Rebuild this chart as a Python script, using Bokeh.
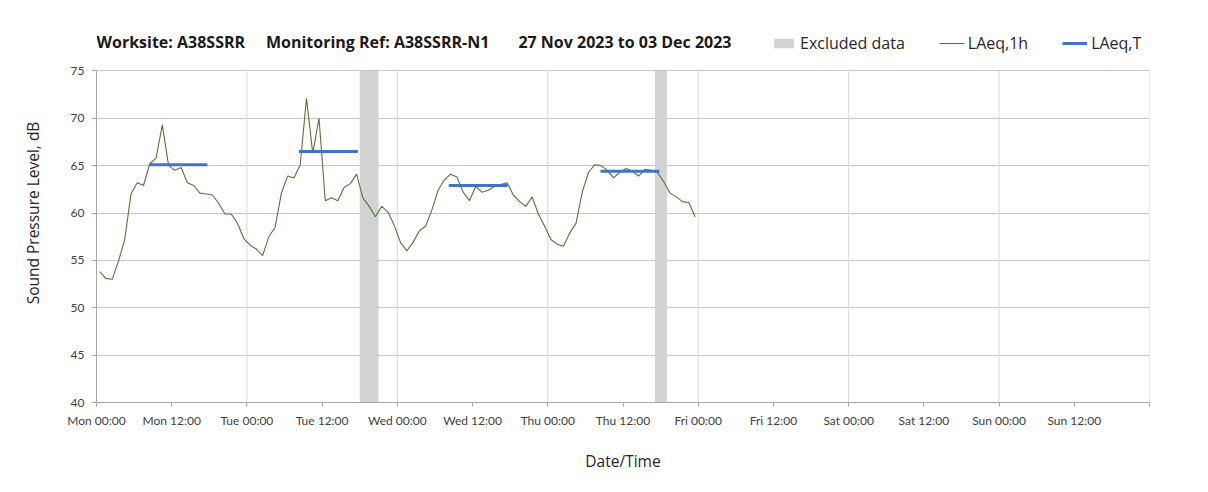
import numpy as np
from bokeh.plotting import figure
from bokeh.models import Range1d, FixedTicker, Legend, LegendItem, Label
from bokeh.embed import file_html
from bokeh.resources import INLINE

# ---- data ----
# hourly LAeq,1h values from Mon 27 Nov 2023 00:00 (hour index; plotted at mid-hour)
hour_index = list(range(96))
laeq_1h = [
    53.8, 53.1, 53.0, 54.9, 57.2, 62.0, 63.2, 62.9, 65.2, 65.8, 69.3, 65.0,
    64.5, 64.8, 63.2, 62.9, 62.1, 62.0, 61.9, 61.0, 59.9, 59.9, 58.9, 57.3,
    56.6, 56.2, 55.5, 57.5, 58.5, 62.1, 63.9, 63.7, 65.1, 72.1, 66.3, 70.0,
    61.3, 61.6, 61.3, 62.7, 63.1, 64.1, 61.6, 60.7, 59.6, 60.7, 60.1, 58.7,
    56.9, 56.0, 56.9, 58.1, 58.6, 60.3, 62.4, 63.5, 64.1, 63.8, 62.2, 61.3,
    62.8, 62.2, 62.4, 62.8, 63.0, 63.2, 61.9, 61.2, 60.7, 61.7, 59.9, 58.6,
    57.2, 56.7, 56.5, 57.9, 58.9, 62.2, 64.3, 65.1, 65.0, 64.5, 63.7, 64.3,
    64.7, 64.4, 63.9, 64.6, 64.5, 64.3, 63.3, 62.1, 61.7, 61.2, 61.1, 59.6,
]

# LAeq,T period values (hours from Mon 00:00)
laeqT_start = [8.5, 32.3, 56.2, 80.4]
laeqT_end = [17.7, 41.7, 65.6, 89.8]
laeqT_value = [65.1, 66.5, 62.9, 64.4]

# excluded data periods (hours from Mon 00:00)
excl_start = [42.0, 89.1]
excl_end = [45.0, 91.0]

tick_hours = list(range(0, 169, 12))
tick_labels = ["Mon 00:00", "Mon 12:00", "Tue 00:00", "Tue 12:00", "Wed 00:00",
               "Wed 12:00", "Thu 00:00", "Thu 12:00", "Fri 00:00", "Fri 12:00",
               "Sat 00:00", "Sat 12:00", "Sun 00:00", "Sun 12:00", ""]
grid_hours = list(range(0, 169, 24))
y_ticks = [40, 45, 50, 55, 60, 65, 70, 75]
y_min, y_max = 40, 75

NB = "\u00a0"
title_text = ("Worksite: A38SSRR" + NB * 5 + "Monitoring Ref: A38SSRR-N1" + NB * 7 +
              "27 Nov 2023 to 03 Dec 2023")

FONT = "Lato"
FONT2 = "Open Sans"

# frame extends above 75 dB so the title row and legend sit inside it
p = figure(width=1208, height=492, output_backend="svg", toolbar_location=None,
           x_range=Range1d(0, 168), y_range=Range1d(y_min, 80),
           min_border_left=96, min_border_right=59, min_border_top=23,
           min_border_bottom=90)
p.outline_line_color = None
p.background_fill_color = "white"
p.border_fill_color = "white"

# vertical grid lines (every 24 h) limited to the axis range
p.xgrid.visible = False
p.segment(x0=grid_hours, y0=[y_min] * len(grid_hours), x1=grid_hours,
          y1=[y_max] * len(grid_hours), line_color="#d9d9d9", line_width=1)

# excluded bands
x_mid = [h + 0.5 for h in hour_index]
bands = p.quad(left=excl_start, right=excl_end,
               bottom=[y_min] * len(excl_start), top=[y_max] * len(excl_start),
               fill_color="#d3d3d3", line_color=None)

line1h = p.line(x_mid, laeq_1h, line_color="#55743a", line_width=1.1)
segT = p.segment(x0=laeqT_start, y0=laeqT_value, x1=laeqT_end, y1=laeqT_value,
                 line_color="#4472c4", line_width=3)

# axes
p.xaxis.ticker = FixedTicker(ticks=tick_hours)
p.xaxis.major_label_overrides = {h: l for h, l in zip(tick_hours, tick_labels)}
p.xaxis.minor_tick_line_color = None
p.xaxis.major_tick_out = 4
p.xaxis.major_tick_in = 0
p.xaxis.major_label_standoff = 6
p.xaxis.axis_label = "Date/Time"
p.xaxis.axis_label_standoff = 19

p.yaxis.ticker = FixedTicker(ticks=y_ticks)
p.yaxis.bounds = (y_min, y_max)
p.yaxis.minor_tick_line_color = None
p.yaxis.major_tick_out = 5
p.yaxis.major_tick_in = 0
p.yaxis.major_label_standoff = 7
p.yaxis.axis_label = "Sound Pressure Level, dB"
p.yaxis.axis_label_standoff = 24

for ax in (p.xaxis, p.yaxis):
    ax.axis_line_color = "#a6a6a6"
    ax.major_tick_line_color = "#a6a6a6"
    ax.major_label_text_font = FONT
    ax.major_label_text_font_size = "12px"
    ax.major_label_text_color = "#404040"
    ax.axis_label_text_font = FONT2
    ax.axis_label_text_font_size = "15.5px"
    ax.axis_label_text_font_style = "normal"
    ax.axis_label_text_color = "#262626"

p.ygrid.ticker = FixedTicker(ticks=y_ticks)
p.ygrid.grid_line_color = "#c6c6c6"

# title row
title = Label(x=0, y=y_max + 3.1, text=title_text, text_align="left",
              text_baseline="middle", text_font=FONT2, text_font_size="16px",
              text_font_style="bold", text_color="#1a1a1a")
p.add_layout(title)

legend = Legend(items=[
    LegendItem(label="Excluded data", renderers=[bands]),
    LegendItem(label="LAeq,1h", renderers=[line1h]),
    LegendItem(label="LAeq,T", renderers=[segT]),
], orientation="horizontal", location=(675, 348))
legend.background_fill_alpha = 0
legend.border_line_color = None
legend.padding = 0
legend.margin = 0
legend.spacing = 34
legend.glyph_width = 25
legend.glyph_height = 12
legend.label_standoff = 4
legend.label_text_font = FONT2
legend.label_text_font_size = "16px"
legend.label_text_color = "#262626"
p.add_layout(legend, "center")

open("out.html", "w").write(file_html(p, INLINE))
